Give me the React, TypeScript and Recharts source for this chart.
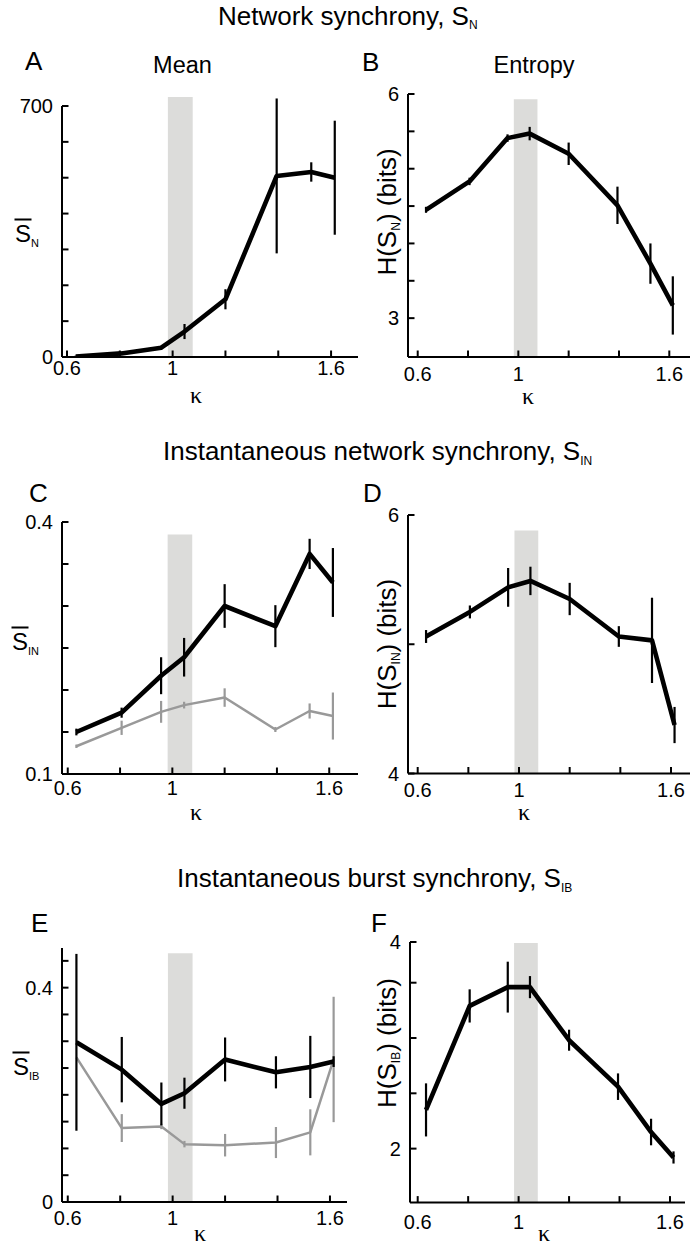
import React from 'react';
import { LineChart, Line, XAxis, YAxis, ErrorBar, ReferenceArea } from 'recharts';

// ---------- data ----------
const kappa = [0.633, 0.806, 0.957, 1.045, 1.2, 1.394, 1.525, 1.614];
const xTicks = [0.6, 0.8, 1.0, 1.2, 1.4, 1.6];
const xTickLabels = ['0.6', '', '1', '', '', '1.6'];
const band = [0.982, 1.076];

// A: mean network synchrony
const meanSN = [1, 10, 26, 71, 161, 505, 516, 500];
const meanSNErr = [3, 3, 5, 21, 28, 216, 27, 159];
// B: entropy of S_N
const entSN = [4.45, 4.83, 5.41, 5.47, 5.2, 4.51, 3.73, 3.17];
const entSNErr = [0.04, 0.05, 0.05, 0.09, 0.15, 0.25, 0.27, 0.39];
// C: mean instantaneous network synchrony (black) and grey reference
const meanSIN = [0.15, 0.173, 0.217, 0.239, 0.3, 0.276, 0.362, 0.328];
const meanSINErr = [0.004, 0.006, 0.022, 0.023, 0.026, 0.025, 0.018, 0.041];
const meanSINGrey = [0.133, 0.155, 0.174, 0.182, 0.191, 0.153, 0.175, 0.169];
const meanSINGreyErr = [0.002, 0.0085, 0.013, 0.004, 0.011, 0.003, 0.009, 0.028];
// D: entropy of S_IN
const entSIN = [5.06, 5.25, 5.44, 5.49, 5.35, 5.06, 5.03, 4.375];
const entSINErr = [0.05, 0.05, 0.15, 0.11, 0.125, 0.08, 0.33, 0.14];
// E: mean instantaneous burst synchrony (black) and grey reference
const meanSIB = [0.298, 0.247, 0.183, 0.203, 0.266, 0.242, 0.252, 0.262];
const meanSIBErr = [0.165, 0.061, 0.04, 0.029, 0.041, 0.03, 0.058, 0.01];
const meanSIBGrey = [0.27, 0.138, 0.141, 0.108, 0.106, 0.111, 0.13, 0.266];
const meanSIBGreyErr = [0, 0.026, 0.005, 0.006, 0.021, 0.029, 0.043, 0.117];
// F: entropy of S_IB
const entSIB = [2.35, 3.29, 3.46, 3.46, 2.98, 2.56, 2.15, 1.92];
const entSIBErr = [0.24, 0.15, 0.23, 0.1, 0.095, 0.12, 0.12, 0.055];

// y-axis ticks and labels
const yTicksA = [0, 100, 200, 300, 400, 500, 600, 700];
const yLabelsA: Record<string, string> = { '0': '0', '700': '700' };
const yTicksB = [3, 3.5, 4, 4.5, 5, 5.5, 6];
const yLabelsB: Record<string, string> = { '3': '3', '6': '6' };
const yTicksC = [0.1, 0.15, 0.2, 0.25, 0.3, 0.35, 0.4];
const yLabelsC: Record<string, string> = { '0.1': '0.1', '0.4': '0.4' };
const yTicksD = [4, 5, 6];
const yLabelsD: Record<string, string> = { '4': '4', '6': '6' };
const yTicksE = [0, 0.05, 0.1, 0.15, 0.2, 0.25, 0.3, 0.35, 0.4, 0.45];
const yLabelsE: Record<string, string> = { '0': '0', '0.4': '0.4' };
const yTicksF = [2, 2.5, 3, 3.5, 3.868];
const yLabelsF: Record<string, string> = { '2': '2', '3.868': '4' };

// ---------- styling ----------
const FONT = "'Liberation Sans', Arial, Helvetica, sans-serif";
const SERIF = "'Liberation Serif', 'DejaVu Serif', serif";
const BLACK = '#000000';
const GREY = '#999999';
const BAND = '#dcdcda';
const YW = 50;
const MT = 30;
const MR = 10;
const XH = 40;

type Series = { values: number[]; errs: number[]; color: string; width: number };
type PanelCfg = {
  plotLeft: number;
  plotTop: number;
  plotW: number;
  plotH: number;
  xDomain: [number, number];
  yDomain: [number, number];
  yTicks: number[];
  yLabels: Record<string, string>;
  bandTop: number;
  xLabelDy: number;
  clipY?: boolean;
  series: Series[];
};

const makeYTick = (labels: Record<string, string>) => (props: any) => {
  const { x, y, payload } = props;
  const lab = labels[String(payload.value)];
  return (
    <g>
      <line x1={x} y1={y} x2={x + 6.5} y2={y} stroke={BLACK} strokeWidth={2} />
      {lab ? (
        <text x={x - 9} y={y + 7} textAnchor="end" fontSize={20} fontFamily={FONT} fill={BLACK}>
          {lab}
        </text>
      ) : null}
    </g>
  );
};

const makeXTick = (dy: number) => (props: any) => {
  const { x, y, payload } = props;
  const idx = xTicks.indexOf(payload.value);
  const lab = idx >= 0 ? xTickLabels[idx] : '';
  return (
    <g>
      <line x1={x} y1={y} x2={x} y2={y - 6.5} stroke={BLACK} strokeWidth={2} />
      {lab ? (
        <text x={x} y={y + dy} textAnchor="middle" fontSize={20} fontFamily={FONT} fill={BLACK}>
          {lab}
        </text>
      ) : null}
    </g>
  );
};

function Panel({ cfg }: { cfg: PanelCfg }) {
  const data = kappa.map((k, i) => {
    const row: any = { k };
    cfg.series.forEach((s, j) => {
      row['v' + j] = s.values[i];
      row['e' + j] = s.errs[i];
    });
    return row;
  });
  const width = YW + cfg.plotW + MR;
  const height = MT + cfg.plotH + XH;
  return (
    <div style={{ position: 'absolute', left: cfg.plotLeft - YW, top: cfg.plotTop - MT }}>
      <LineChart width={width} height={height} data={data} margin={{ top: MT, right: MR, left: 0, bottom: 0 }}>
        <ReferenceArea
          x1={band[0]}
          x2={band[1]}
          y1={cfg.yDomain[0]}
          y2={cfg.bandTop}
          fill={BAND}
          fillOpacity={1}
          stroke="none"
          ifOverflow="visible"
        />
        <XAxis
          type="number"
          dataKey="k"
          domain={cfg.xDomain}
          ticks={xTicks}
          interval={0}
          height={XH}
          axisLine={{ stroke: BLACK, strokeWidth: 2 }}
          tickLine={false}
          tickSize={0}
          tickMargin={0}
          tick={makeXTick(cfg.xLabelDy)}
        />
        <YAxis
          type="number"
          domain={cfg.yDomain}
          ticks={cfg.yTicks}
          interval={0}
          width={YW}
          allowDataOverflow={!!cfg.clipY}
          axisLine={{ stroke: BLACK, strokeWidth: 2 }}
          tickLine={false}
          tickSize={0}
          tickMargin={0}
          tick={makeYTick(cfg.yLabels)}
        />
        {cfg.series.map((s, j) => (
          <Line
            key={j}
            type="linear"
            dataKey={'v' + j}
            stroke={s.color}
            strokeWidth={s.width}
            strokeLinejoin="round"
            dot={false}
            activeDot={false}
            isAnimationActive={false}
          >
            <ErrorBar dataKey={'e' + j} width={0} stroke={s.color} strokeWidth={2.2} direction="y" />
          </Line>
        ))}
      </LineChart>
    </div>
  );
}

const black = (values: number[], errs: number[]): Series => ({ values, errs, color: BLACK, width: 4.6 });
const grey = (values: number[], errs: number[]): Series => ({ values, errs, color: GREY, width: 2.5 });

const panels: PanelCfg[] = [
  {
    plotLeft: 62, plotTop: 106, plotW: 296, plotH: 251,
    xDomain: [0.581, 1.702], yDomain: [0, 700], yTicks: yTicksA, yLabels: yLabelsA,
    bandTop: 725, xLabelDy: 18, clipY: true,
    series: [black(meanSN, meanSNErr)],
  },
  {
    plotLeft: 408, plotTop: 94, plotW: 282, plotH: 263,
    xDomain: [0.5614, 1.6823], yDomain: [2.48, 6], yTicks: yTicksB, yLabels: yLabelsB,
    bandTop: 5.93, xLabelDy: 24,
    series: [black(entSN, entSNErr)],
  },
  {
    plotLeft: 62, plotTop: 522, plotW: 296, plotH: 252,
    xDomain: [0.578, 1.71], yDomain: [0.1, 0.4], yTicks: yTicksC, yLabels: yLabelsC,
    bandTop: 0.385, xLabelDy: 21,
    series: [grey(meanSINGrey, meanSINGreyErr), black(meanSIN, meanSINErr)],
  },
  {
    plotLeft: 408, plotTop: 514.5, plotW: 282, plotH: 258.5,
    xDomain: [0.5617, 1.675], yDomain: [4, 6], yTicks: yTicksD, yLabels: yLabelsD,
    bandTop: 5.88, xLabelDy: 23,
    series: [black(entSIN, entSINErr)],
  },
  {
    plotLeft: 62, plotTop: 948, plotW: 285, plotH: 254,
    xDomain: [0.578, 1.665], yDomain: [0, 0.474], yTicks: yTicksE, yLabels: yLabelsE,
    bandTop: 0.464, xLabelDy: 23,
    series: [grey(meanSIBGrey, meanSIBGreyErr), black(meanSIB, meanSIBErr)],
  },
  {
    plotLeft: 410, plotTop: 941.7, plotW: 275, plotH: 260.6,
    xDomain: [0.5695, 1.6595], yDomain: [1.512, 3.868], yTicks: yTicksF, yLabels: yLabelsF,
    bandTop: 3.86, xLabelDy: 26,
    series: [black(entSIB, entSIBErr)],
  },
];

function Overlay() {
  const t = { fontFamily: FONT, fill: BLACK } as const;
  const sBar = (x: number, y: number, sub: string) => (
    <g>
      <rect x={x - 0.5} y={y - 23.5} width={17} height={2} fill={BLACK} />
      <text x={x} y={y} fontSize={24} {...t}>
        S<tspan fontSize={11} dy={5}>{sub}</tspan>
      </text>
    </g>
  );
  const hLabel = (cx: number, cy: number, sub: string) => (
    <text x={cx} y={cy} transform={`rotate(-90 ${cx} ${cy})`} textAnchor="middle" fontSize={26} {...t}>
      H(S<tspan fontSize={12} dy={4}>{sub}</tspan>
      <tspan dy={-4}>) (bits)</tspan>
    </text>
  );
  const kap = (x: number, y: number) => (
    <text x={x} y={y} textAnchor="middle" fontSize={24} fontFamily={SERIF} fill={BLACK}>κ</text>
  );
  return (
    <svg width={690} height={1247} style={{ position: 'absolute', left: 0, top: 0 }}>
      {/* section titles */}
      <text x={218} y={25} fontSize={26} {...t}>
        Network synchrony, S<tspan fontSize={12} dy={4}>N</tspan>
      </text>
      <text x={163} y={460} fontSize={26} {...t}>
        Instantaneous network synchrony, S<tspan fontSize={12} dy={5}>IN</tspan>
      </text>
      <text x={177} y={887} fontSize={26} {...t}>
        Instantaneous burst synchrony, S<tspan fontSize={12} dy={5}>IB</tspan>
      </text>
      {/* panel letters */}
      <text x={25} y={70} fontSize={26} {...t}>A</text>
      <text x={362} y={71} fontSize={26} {...t}>B</text>
      <text x={29} y={502} fontSize={26} {...t}>C</text>
      <text x={363} y={502} fontSize={26} {...t}>D</text>
      <text x={31} y={932} fontSize={26} {...t}>E</text>
      <text x={371} y={932} fontSize={26} {...t}>F</text>
      {/* sub titles */}
      <text x={182.5} y={73} textAnchor="middle" fontSize={23.5} {...t}>Mean</text>
      <text x={534} y={73} textAnchor="middle" fontSize={23.5} {...t}>Entropy</text>
      {/* y labels */}
      {sBar(15, 242, 'N')}
      {sBar(12, 650, 'IN')}
      {sBar(13, 1075, 'IB')}
      {hLabel(396, 212, 'N')}
      {hLabel(396, 644, 'IN')}
      {hLabel(396, 1043, 'IB')}
      {/* x labels */}
      {kap(196, 403)}
      {kap(528, 404)}
      {kap(196, 820)}
      {kap(524, 820)}
      {kap(200, 1241)}
      {kap(544, 1241)}
    </svg>
  );
}

export default function App() {
  return (
    <div
      style={{
        position: 'absolute',
        left: 0,
        top: 0,
        width: 690,
        height: 1247,
        overflow: 'hidden',
        background: '#ffffff',
        fontFamily: FONT,
      }}
    >
      <Overlay />
      {panels.map((cfg, i) => (
        <Panel key={i} cfg={cfg} />
      ))}
    </div>
  );
}
